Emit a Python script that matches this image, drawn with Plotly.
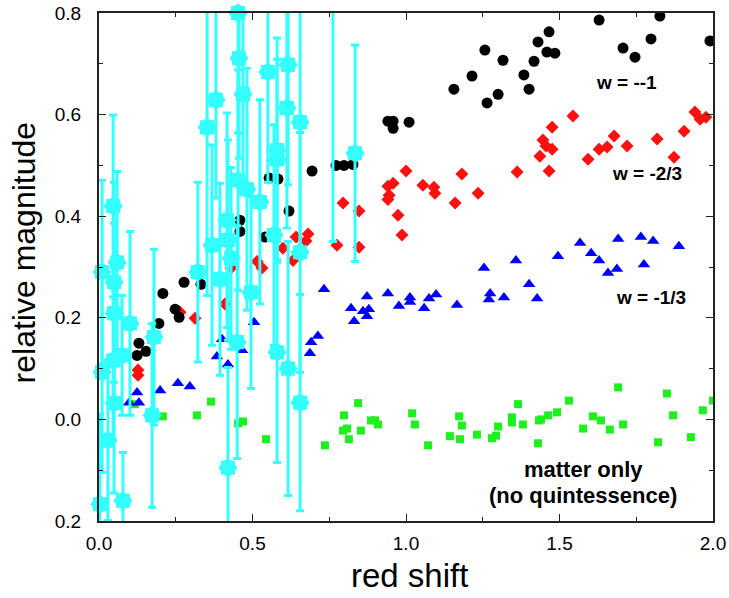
import plotly.graph_objects as go

# ---- data ----
black_x = [0.124, 0.130, 0.153, 0.195, 0.208, 0.248, 0.261, 0.277, 0.332, 0.459, 0.459, 0.541,
           0.554, 0.583, 0.619, 0.694, 0.772, 0.798, 0.827, 0.941, 0.958, 0.958, 1.010, 1.156,
           1.215, 1.257, 1.264, 1.300, 1.316, 1.384, 1.401, 1.417, 1.430, 1.466, 1.459, 1.485,
           1.629, 1.707, 1.746, 1.798, 1.827, 1.990]
black_y = [0.126, 0.150, 0.134, 0.189, 0.248, 0.217, 0.201, 0.270, 0.266, 0.392, 0.370, 0.359,
           0.475, 0.473, 0.410, 0.489, 0.500, 0.500, 0.502, 0.587, 0.587, 0.573, 0.585, 0.650,
           0.676, 0.727, 0.623, 0.640, 0.707, 0.678, 0.650, 0.705, 0.743, 0.763, 0.723, 0.721,
           0.786, 0.731, 0.713, 0.749, 0.794, 0.745]

red_x = [0.127, 0.127, 0.264, 0.313, 0.410, 0.430, 0.515, 0.531, 0.599, 0.632, 0.642, 0.674,
         0.681, 0.775, 0.795, 0.847, 0.847, 0.941, 0.958, 0.945, 0.941, 0.974, 0.987, 1.000,
         1.055, 1.091, 1.094, 1.160, 1.182, 1.235, 1.362, 1.436, 1.446, 1.456, 1.476, 1.476,
         1.466, 1.544, 1.593, 1.629, 1.655, 1.678, 1.720, 1.818, 1.873, 1.906, 1.941, 1.958, 1.977]
red_y = [0.097, 0.087, 0.211, 0.199, 0.227, 0.298, 0.311, 0.298, 0.337, 0.313, 0.359, 0.351,
         0.365, 0.343, 0.426, 0.410, 0.339, 0.459, 0.465, 0.441, 0.433, 0.402, 0.363, 0.489,
         0.461, 0.457, 0.445, 0.426, 0.483, 0.445, 0.487, 0.518, 0.550, 0.538, 0.575, 0.532,
         0.489, 0.597, 0.512, 0.532, 0.536, 0.558, 0.538, 0.552, 0.516, 0.567, 0.605, 0.591, 0.595]

blue_x = [0.098, 0.124, 0.130, 0.199, 0.257, 0.296, 0.384, 0.401, 0.420, 0.466, 0.505, 0.687,
          0.691, 0.713, 0.733, 0.821, 0.831, 0.860, 0.873, 0.879, 0.873, 0.941, 0.977, 1.013,
          1.013, 1.059, 1.075, 1.098, 1.166, 1.254, 1.274, 1.270, 1.319, 1.358, 1.401, 1.427,
          1.495, 1.567, 1.603, 1.629, 1.658, 1.687, 1.691, 1.765, 1.775, 1.805, 1.889]
blue_y = [0.033, 0.053, 0.033, 0.057, 0.071, 0.065, 0.124, 0.158, 0.108, 0.136, 0.191, 0.130,
          0.152, 0.164, 0.256, 0.219, 0.193, 0.213, 0.242, 0.217, 0.203, 0.248, 0.223, 0.240,
          0.231, 0.219, 0.238, 0.246, 0.225, 0.298, 0.248, 0.236, 0.240, 0.313, 0.266, 0.238,
          0.321, 0.347, 0.327, 0.313, 0.288, 0.296, 0.355, 0.359, 0.305, 0.351, 0.341]

green_x = [0.117, 0.208, 0.319, 0.365, 0.453, 0.469, 0.544, 0.736, 0.798, 0.808, 0.795, 0.814,
           0.844, 0.853, 0.886, 0.899, 0.909, 1.020, 1.029, 1.072, 1.143, 1.173, 1.182, 1.176,
           1.231, 1.280, 1.293, 1.300, 1.345, 1.345, 1.365, 1.381, 1.430, 1.433, 1.440, 1.463,
           1.492, 1.531, 1.577, 1.609, 1.635, 1.664, 1.691, 1.707, 1.821, 1.850, 1.870, 1.928,
           1.967, 2.000]
green_y = [0.030, 0.006, 0.008, 0.035, -0.008, -0.004, -0.039, -0.051, 0.008, -0.018, -0.022, -0.039,
           0.032, -0.022, -0.002, -0.002, -0.010, 0.012, -0.010, -0.051, -0.033, 0.006, -0.012, -0.039,
           -0.030, -0.037, -0.032, -0.014, 0.004, -0.006, 0.030, -0.010, -0.047, -0.002, 0.000, 0.008,
           0.014, 0.037, -0.018, 0.006, -0.002, -0.020, 0.063, -0.010, -0.045, 0.051, 0.008, -0.035,
           0.018, 0.037]

obs_x = [0.003, 0.078, 0.029, 0.049, 0.010, 0.046, 0.075, 0.049, 0.101, 0.049, 0.010, 0.059,
         0.046, 0.179, 0.173, 0.322, 0.352, 0.381, 0.368, 0.394, 0.417, 0.420, 0.430, 0.420,
         0.450, 0.453, 0.456, 0.469, 0.453, 0.482, 0.495, 0.524, 0.550, 0.570, 0.580, 0.580,
         0.580, 0.616, 0.612, 0.616, 0.655, 0.655, 0.655, 0.834]
obs_y = [-0.167, -0.160, -0.041, 0.032, 0.093, 0.116, 0.126, 0.209, 0.189, 0.270, 0.290, 0.309,
         0.420, 0.162, 0.008, 0.290, 0.575, 0.629, 0.343, 0.276, 0.392, 0.353, 0.317, -0.095,
         0.152, 0.800, 0.711, 0.640, 0.471, 0.453, 0.250, 0.428, 0.684, 0.363, 0.530, 0.512,
         0.132, 0.698, 0.613, 0.100, 0.585, 0.329, 0.033, 0.524]
obs_err = [0.177, 0.095, 0.158, 0.177, 0.197, 0.158, 0.118, 0.177, 0.181, 0.197, 0.181, 0.179,
           0.179, 0.173, 0.181, 0.177, 0.331, 0.193, 0.197, 0.189, 0.211, 0.197, 0.179, 0.197,
           0.229, 0.236, 0.197, 0.197, 0.217, 0.238, 0.189, 0.201, 0.217, 0.217, 0.221, 0.197,
           0.217, 0.236, 0.236, 0.250, 0.256, 0.236, 0.213, 0.213]
# observation lying above the plotted range (only its error bar shows)
obs_off_x = [0.762]
obs_off_y = [0.95]
obs_off_err = [0.60]

x_tickvals = [0.0, 0.5, 1.0, 1.5, 2.0]
x_ticktext = ["0.0", "0.5", "1.0", "1.5", "2.0"]
y_tickvals = [-0.2, 0.0, 0.2, 0.4, 0.6, 0.8]
y_ticktext = ["0.2", "0.0", "0.2", "0.4", "0.6", "0.8"]

labels = ["w = --1", "w = -2/3", "w = -1/3", "matter only", "(no quintessence)"]
label_x = [1.717, 1.785, 1.798, 1.577, 1.577]
label_y = [0.664, 0.485, 0.240, -0.099, -0.150]
label_size = [19, 19, 19, 22, 22]

CYAN = "#33FFFF"
FONT = "Liberation Sans, Arial, sans-serif"

fig = go.Figure()
fig.add_trace(go.Scatter(x=green_x, y=green_y, mode="markers",
                         marker=dict(symbol="square", size=8, color="#1EF01E")))
fig.add_trace(go.Scatter(x=blue_x, y=blue_y, mode="markers",
                         marker=dict(symbol="triangle-up", size=11, color="#0000FF")))
fig.add_trace(go.Scatter(x=red_x, y=red_y, mode="markers",
                         marker=dict(symbol="diamond", size=10, color="#FF1010")))
fig.add_trace(go.Scatter(x=black_x, y=black_y, mode="markers",
                         marker=dict(symbol="circle", size=11, color="#000000")))

eb = dict(type="data", visible=True, color=CYAN, thickness=3, width=4)
fig.add_trace(go.Scatter(x=obs_off_x, y=obs_off_y, mode="markers",
                         error_y=dict(array=obs_off_err, **eb),
                         marker=dict(symbol="circle", size=16, color=CYAN)))
fig.add_trace(go.Scatter(x=obs_x, y=obs_y, mode="markers", cliponaxis=False,
                         error_y=dict(array=obs_err, **eb),
                         marker=dict(symbol="circle", size=16, color=CYAN)))
fig.add_trace(go.Scatter(x=obs_x, y=obs_y, mode="markers", cliponaxis=False,
                         marker=dict(symbol="square", size=14, color=CYAN)))
fig.add_trace(go.Scatter(x=obs_x, y=obs_y, mode="markers", cliponaxis=False,
                         marker=dict(symbol="diamond", size=15, color=CYAN)))

for t, lx, ly, ls in zip(labels, label_x, label_y, label_size):
    fig.add_annotation(x=lx, y=ly, text="<b>" + t + "</b>", showarrow=False,
                       xanchor="center", yanchor="middle",
                       font=dict(family=FONT, size=ls, color="black"))

# axis titles as annotations (exact placement)
fig.add_annotation(xref="paper", yref="paper", x=0.5065, y=-0.108, text="red shift",
                   showarrow=False, xanchor="center", yanchor="middle",
                   font=dict(family=FONT, size=33, color="black"))
fig.add_annotation(xref="paper", yref="paper", x=-0.122, y=0.527, text="relative magnitude",
                   textangle=-90, showarrow=False, xanchor="center", yanchor="middle",
                   font=dict(family=FONT, size=32, color="black"))

axis_common = dict(showgrid=False, zeroline=False, showline=True, linecolor="#222222",
                   linewidth=2, mirror="allticks", ticks="inside", ticklen=7, tickwidth=1,
                   tickcolor="#222222", automargin=False, ticklabeloverflow="allow",
                   tickfont=dict(family=FONT, size=19, color="black"))
fig.update_xaxes(range=[0, 2], tickvals=x_tickvals, ticktext=x_ticktext,
                 minor=dict(tickvals=[0.25, 0.75, 1.25, 1.75], ticks="inside", ticklen=4,
                            tickcolor="#222222"),
                 ticklabelstandoff=4, **axis_common)
fig.update_yaxes(range=[-0.2, 0.8], tickvals=y_tickvals, ticktext=y_ticktext,
                 minor=dict(tickvals=[-0.1, 0.1, 0.3, 0.5, 0.7], ticks="inside", ticklen=4,
                            tickcolor="#222222"),
                 ticklabelstandoff=12, **axis_common)
fig.update_layout(width=729, height=598, showlegend=False,
                  plot_bgcolor="white", paper_bgcolor="white",
                  margin=dict(l=99, r=16, t=13, b=77, autoexpand=False))
# remove the page's default body margin so the figure fills the window exactly
fig.write_html("out.html", config={"displayModeBar": False},
               post_script="document.body.style.margin='0px';"
                           "document.body.style.overflow='hidden';")
